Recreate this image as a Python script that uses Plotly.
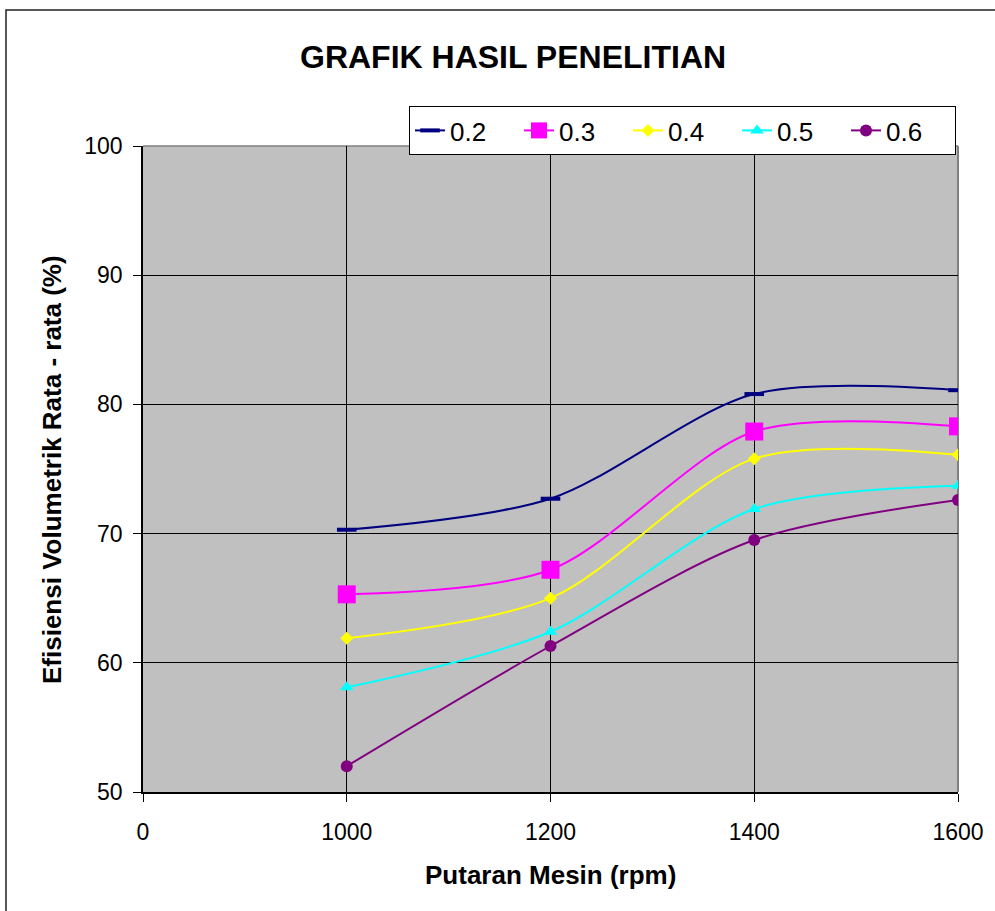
import plotly.graph_objects as go

categories = ["0", "1000", "1200", "1400", "1600"]
rpm = ["1000", "1200", "1400", "1600"]
series_names = ["0.2", "0.3", "0.4", "0.5", "0.6"]
s02 = [70.3, 72.7, 80.8, 81.1]
s03 = [65.3, 67.2, 77.9, 78.3]
s04 = [61.9, 65.0, 75.8, 76.1]
s05 = [58.1, 62.4, 71.9, 73.7]
s06 = [52.0, 61.3, 69.5, 72.6]
y_ticks = [50, 60, 70, 80, 90, 100]

values = [s02, s03, s04, s05, s06]
colors = ["#000080", "#FF00FF", "#FFFF00", "#00FFFF", "#800080"]
symbols = ["line-ew", "square", "diamond", "triangle-up", "circle"]
sizes = [14, 18, 10, 12, 12]

FONT = "Liberation Sans, Arial, sans-serif"

fig = go.Figure()
for name, vals, c, sym, sz in zip(series_names, values, colors, symbols, sizes):
    marker = dict(symbol=sym, size=sz, color=c)
    if sym == "line-ew":
        marker["line"] = dict(color=c, width=4)
    else:
        marker["line"] = dict(width=0)
    fig.add_trace(go.Scatter(
        x=rpm, y=vals, name=name, mode="lines+markers",
        line=dict(color=c, width=2, shape="spline", smoothing=0.85),
        marker=marker,
    ))

W, H = 995, 911
L, R, T, B = 143, 37, 146, 119
pw, ph = W - L - R, H - T - B

def px(xp):
    return (xp - L) / pw

def py(yp):
    return (H - B - yp) / ph

fig.update_layout(
    width=W, height=H,
    margin=dict(l=L, r=R, t=T, b=B),
    paper_bgcolor="white",
    plot_bgcolor="#C0C0C0",
    font=dict(family=FONT, color="black"),
    showlegend=True,
    legend=dict(
        orientation="h", x=px(956), xanchor="right", y=py(106), yanchor="top",
        bgcolor="white", bordercolor="black", borderwidth=1,
        font=dict(size=26, family=FONT),
        entrywidth=64, entrywidthmode="pixels",
        itemclick=False,
    ),
    xaxis=dict(
        type="category", categoryorder="array", categoryarray=categories,
        range=[0, 4], showgrid=True, gridcolor="black", gridwidth=1,
        showline=True, linecolor="black", linewidth=2,
        ticks="outside", ticklen=8, tickcolor="black",
        tickfont=dict(size=23, family=FONT), ticklabelstandoff=10,
        zeroline=False, fixedrange=True,
    ),
    yaxis=dict(
        range=[50, 100], tickvals=y_ticks, showgrid=True, gridcolor="black",
        gridwidth=1, showline=True, linecolor="black", linewidth=1.5,
        ticks="outside", ticklen=8, tickcolor="black",
        tickfont=dict(size=23, family=FONT), ticklabelstandoff=6,
        zeroline=False, fixedrange=True,
    ),
    annotations=[
        dict(text="<b>GRAFIK HASIL PENELITIAN</b>", xref="paper", yref="paper",
             x=px(513), y=py(57), xanchor="center", yanchor="middle",
             showarrow=False, font=dict(size=32, family=FONT)),
        dict(text="<b>Putaran Mesin (rpm)</b>", xref="paper", yref="paper",
             x=px(550), y=py(875), xanchor="center", yanchor="middle",
             showarrow=False, font=dict(size=26, family=FONT)),
        dict(text="<b>Efisiensi Volumetrik Rata - rata (%)</b>", xref="paper", yref="paper",
             x=px(52), y=py(470), xanchor="center", yanchor="middle", textangle=-90,
             showarrow=False, font=dict(size=26, family=FONT)),
    ],
    shapes=[
        dict(type="line", xref="paper", yref="paper", x0=1, x1=1, y0=0, y1=1,
             line=dict(color="#808080", width=2), layer="between"),
        dict(type="line", xref="paper", yref="paper", x0=0, x1=1, y0=1, y1=1,
             line=dict(color="#808080", width=1.5), layer="between"),
        dict(type="rect", xref="paper", yref="paper",
             x0=px(6), x1=px(1010), y0=py(10), y1=py(930),
             line=dict(color="#222222", width=1.5), layer="below"),
    ],
)

fig.write_html("out.html")
